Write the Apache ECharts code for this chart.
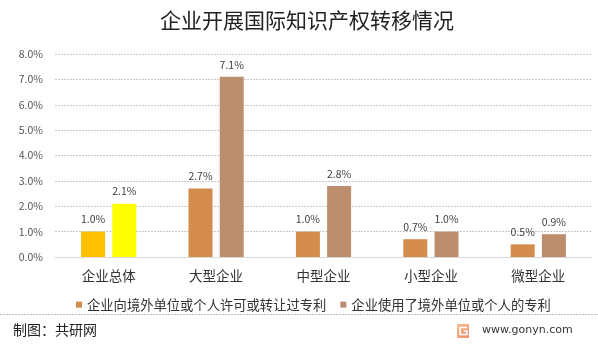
<!DOCTYPE html>
<html>
<head>
<meta charset="utf-8">
<script src="https://cdn.jsdelivr.net/npm/echarts@6/dist/echarts.min.js"></script>
<style>
  html, body { margin: 0; padding: 0; background: #fff; }
  #chart { width: 598px; height: 344px; }
</style>
</head>
<body>
<div id="chart"></div>
<script>
// 企业开展国际知识产权转移情况（%）
const categories = ['企业总体', '大型企业', '中型企业', '小型企业', '微型企业'];
const seriesNames = ['企业向境外单位或个人许可或转让过专利', '企业使用了境外单位或个人的专利'];
const licensedOut = [1.0, 2.7, 1.0, 0.7, 0.5];
const usedForeign = [2.1, 7.1, 2.8, 1.0, 0.9];
const yTicks = [0, 1, 2, 3, 4, 5, 6, 7, 8];

const colorA = '#D48C4D';
const colorB = '#BC8E6E';
// 企业总体 uses its own highlight colours
const totalColors = ['#FFC000', '#FFFF00'];

const font = '"Microsoft YaHei", "Noto Sans CJK SC", sans-serif';

function withTotal(values, idx) {
  return values.map((v, i) => i === 0 ? { value: v, itemStyle: { color: totalColors[idx] } } : v);
}

const valueLabel = {
  show: true, position: 'top', distance: 7, fontSize: 10.5, color: '#404040',
  formatter: p => p.value.toFixed(1) + '%'
};

const chart = echarts.init(document.getElementById('chart'));
chart.setOption({
  animation: false,
  textStyle: { fontFamily: font },
  title: {
    text: '企业开展国际知识产权转移情况',
    left: 155, top: 5,
    textStyle: { fontSize: 21, fontWeight: 'normal', color: '#222', fontFamily: font }
  },
  grid: { left: 55, right: 6, top: 54, bottom: 87 },
  legend: {
    left: 71, top: 293,
    itemWidth: 6, itemHeight: 6, itemGap: 14,
    icon: 'rect',
    textStyle: { fontSize: 13.3, color: '#333', fontFamily: font },
    data: seriesNames
  },
  xAxis: {
    type: 'category',
    data: categories,
    axisLine: { lineStyle: { color: '#d9d9d9' } },
    axisTick: { show: false },
    axisLabel: { fontSize: 13.5, color: '#333', margin: 12 }
  },
  yAxis: {
    type: 'value',
    min: yTicks[0], max: yTicks[yTicks.length - 1], interval: 1,
    axisLine: { show: false },
    axisTick: { show: false },
    axisLabel: { fontSize: 10.5, color: '#555', margin: 12, formatter: v => v.toFixed(1) + '%' },
    splitLine: { lineStyle: { color: '#c8c8c8', type: [2, 1] } }
  },
  series: [
    {
      name: seriesNames[0], type: 'bar',
      data: withTotal(licensedOut, 0),
      itemStyle: { color: colorA },
      barWidth: 24, barGap: '30%',
      label: valueLabel
    },
    {
      name: seriesNames[1], type: 'bar',
      data: withTotal(usedForeign, 1),
      itemStyle: { color: colorB },
      barWidth: 24,
      label: valueLabel
    }
  ],
  graphic: [
    { type: 'line', shape: { x1: 0, y1: 314.5, x2: 598, y2: 314.5 }, style: { stroke: '#bbb', lineWidth: 1, lineDash: [2, 1] } },
    { type: 'text', left: 13, top: 323, style: { text: '制图：共研网', fontSize: 14, fill: '#222', fontFamily: font } },
    { type: 'rect', shape: { x: 457, y: 324, width: 12, height: 14, r: 1 },
      style: { fill: new echarts.graphic.LinearGradient(0, 0, 1, 1, [{ offset: 0, color: '#F7C08E' }, { offset: 1, color: '#EE8A6A' }]) } },
    { type: 'polyline', shape: { points: [[467, 327.5], [460, 327.5], [460, 334.5], [467, 334.5], [467, 331], [464, 331]] },
      style: { stroke: '#fff', lineWidth: 1.6, fill: null } },
    { type: 'text', left: 482, top: 325, style: { text: 'www.gonyn.com', fontSize: 11, fill: '#333', fontFamily: '"DejaVu Sans", sans-serif' } }
  ]
});
</script>
</body>
</html>
